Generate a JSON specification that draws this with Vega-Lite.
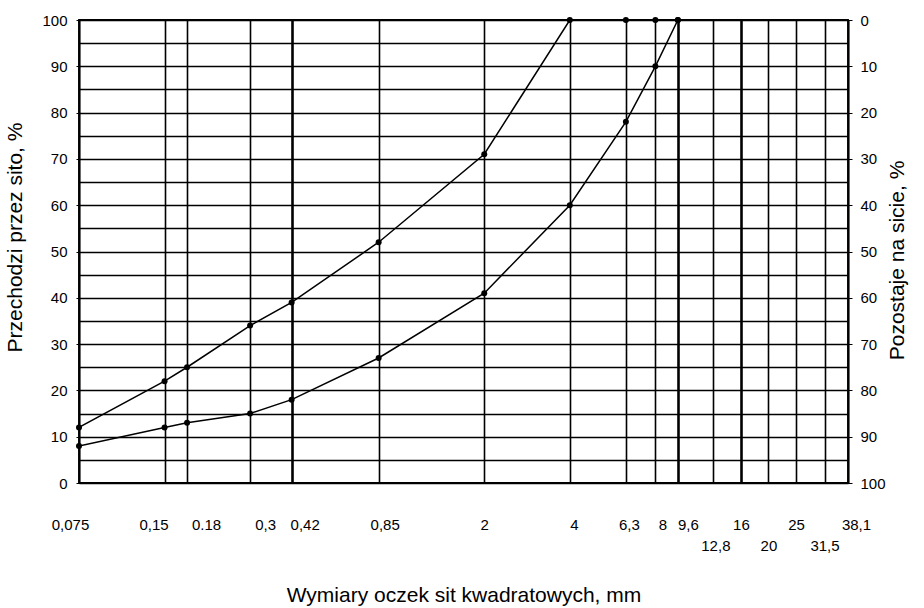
{
  "$schema": "https://vega.github.io/schema/vega-lite/v6.json",
  "autosize": "none",
  "width": 769,
  "height": 463,
  "padding": {"left": 79, "top": 20, "right": 76, "bottom": 125},
  "background": "white",
  "config": {
    "view": {"stroke": "black", "strokeWidth": 1.8},
    "font": "Liberation Sans",
    "axis": {
      "labelFont": "Liberation Sans",
      "titleFont": "Liberation Sans",
      "labelColor": "black",
      "titleColor": "black",
      "labelFontSize": 15,
      "titleFontSize": 21,
      "titleFontWeight": "normal",
      "tickColor": "black",
      "domainColor": "black",
      "gridColor": "black",
      "gridOpacity": 1
    }
  },
  "data": {
    "values": [
      {"series": "A", "size": 0.075, "pass": 12},
      {"series": "A", "size": 0.15, "pass": 22},
      {"series": "A", "size": 0.18, "pass": 25},
      {"series": "A", "size": 0.3, "pass": 34},
      {"series": "A", "size": 0.42, "pass": 39},
      {"series": "A", "size": 0.85, "pass": 52},
      {"series": "A", "size": 2, "pass": 71},
      {"series": "A", "size": 4, "pass": 100},
      {"series": "A", "size": 6.3, "pass": 100},
      {"series": "A", "size": 8, "pass": 100},
      {"series": "A", "size": 9.6, "pass": 100},
      {"series": "B", "size": 0.075, "pass": 8},
      {"series": "B", "size": 0.15, "pass": 12},
      {"series": "B", "size": 0.18, "pass": 13},
      {"series": "B", "size": 0.3, "pass": 15},
      {"series": "B", "size": 0.42, "pass": 18},
      {"series": "B", "size": 0.85, "pass": 27},
      {"series": "B", "size": 2, "pass": 41},
      {"series": "B", "size": 4, "pass": 60},
      {"series": "B", "size": 6.3, "pass": 78},
      {"series": "B", "size": 8, "pass": 90},
      {"series": "B", "size": 9.6, "pass": 100}
    ]
  },
  "layer": [
    {
      "mark": {"type": "line", "color": "black", "strokeWidth": 1.5, "clip": true},
      "encoding": {
        "detail": {"field": "series"},
        "x": {
          "field": "size", "type": "quantitative",
          "scale": {"type": "log", "domain": [0.075, 38.1], "nice": false, "zero": false},
          "axis": {
            "orient": "bottom",
            "title": null,
            "values": [0.075, 0.15, 0.18, 0.3, 0.42, 0.85, 2, 4, 6.3, 8, 9.6, 12.8, 16, 20, 25, 31.5, 38.1],
            "labelExpr": "indexof([12.8, 20, 31.5], datum.value) >= 0 ? '' : (datum.value == 0.18 ? '0.18' : replace(toString(datum.value), '.', ','))",
            "labelOffset": {
              "condition": [
                {"test": "datum.value == 0.075", "value": -9},
                {"test": "datum.value == 0.15", "value": -11},
                {"test": "datum.value == 0.18", "value": 19},
                {"test": "datum.value == 0.3", "value": 15},
                {"test": "datum.value == 0.42", "value": 13},
                {"test": "datum.value == 0.85", "value": 6},
                {"test": "datum.value == 4", "value": 4},
                {"test": "datum.value == 6.3", "value": 3},
                {"test": "datum.value == 8", "value": 7},
                {"test": "datum.value == 9.6", "value": 10},
                {"test": "datum.value == 38.1", "value": 8}
              ],
              "value": 0
            },
            "grid": true,
            "gridWidth": {"condition": {"test": "indexof([0.42, 9.6, 16], datum.value) >= 0", "value": 2.6}, "value": 1.6},
            "ticks": false,
            "domain": false,
            "labelPadding": 34,
            "labelFlush": false,
            "labelOverlap": false
          }
        },
        "y": {
          "field": "pass", "type": "quantitative",
          "scale": {"domain": [0, 100], "nice": false},
          "axis": {
            "orient": "left",
            "title": "Przechodzi przez sito, %",
            "titleY": 217,
            "values": [0, 5, 10, 15, 20, 25, 30, 35, 40, 45, 50, 55, 60, 65, 70, 75, 80, 85, 90, 95, 100],
            "labelExpr": "datum.value % 10 == 0 ? datum.label : ''",
            "tickOpacity": {"condition": {"test": "datum.value % 10 == 0", "value": 1}, "value": 0},
            "tickSize": 3,
            "labelPadding": 9,
            "titlePadding": 16,
            "grid": true,
            "gridWidth": 1.3,
            "domainWidth": 1.8,
            "labelOverlap": false,
            "labelFlush": false
          }
        }
      }
    },
    {
      "mark": {"type": "point", "filled": true, "color": "black", "size": 36, "opacity": 1},
      "encoding": {
        "x": {
          "field": "size", "type": "quantitative",
          "scale": {"type": "log", "domain": [0.075, 38.1], "nice": false, "zero": false},
          "axis": {
            "orient": "bottom",
            "title": "Wymiary oczek sit kwadratowych, mm",
            "values": [12.8, 20, 31.5],
            "labelExpr": "replace(toString(datum.value), '.', ',')",
            "labelOffset": {"condition": {"test": "datum.value == 12.8", "value": 2}, "value": 0},
            "grid": false,
            "ticks": false,
            "domain": false,
            "labelPadding": 55,
            "titlePadding": 31,
            "labelFlush": false,
            "labelOverlap": false
          }
        },
        "y": {
          "field": "pass", "type": "quantitative",
          "scale": {"domain": [0, 100], "nice": false},
          "axis": {
            "orient": "right",
            "title": "Pozostaje na sicie, %",
            "titleAngle": 270,
            "titleY": 240,
            "values": [0, 10, 20, 30, 40, 50, 60, 70, 80, 90, 100],
            "labelExpr": "toString(100 - datum.value)",
            "tickSize": 4,
            "labelPadding": 8,
            "titlePadding": 22,
            "grid": false,
            "domainWidth": 1.8,
            "labelOverlap": false,
            "labelFlush": false
          }
        }
      }
    }
  ],
  "resolve": {"scale": {"x": "independent", "y": "independent"}}
}
